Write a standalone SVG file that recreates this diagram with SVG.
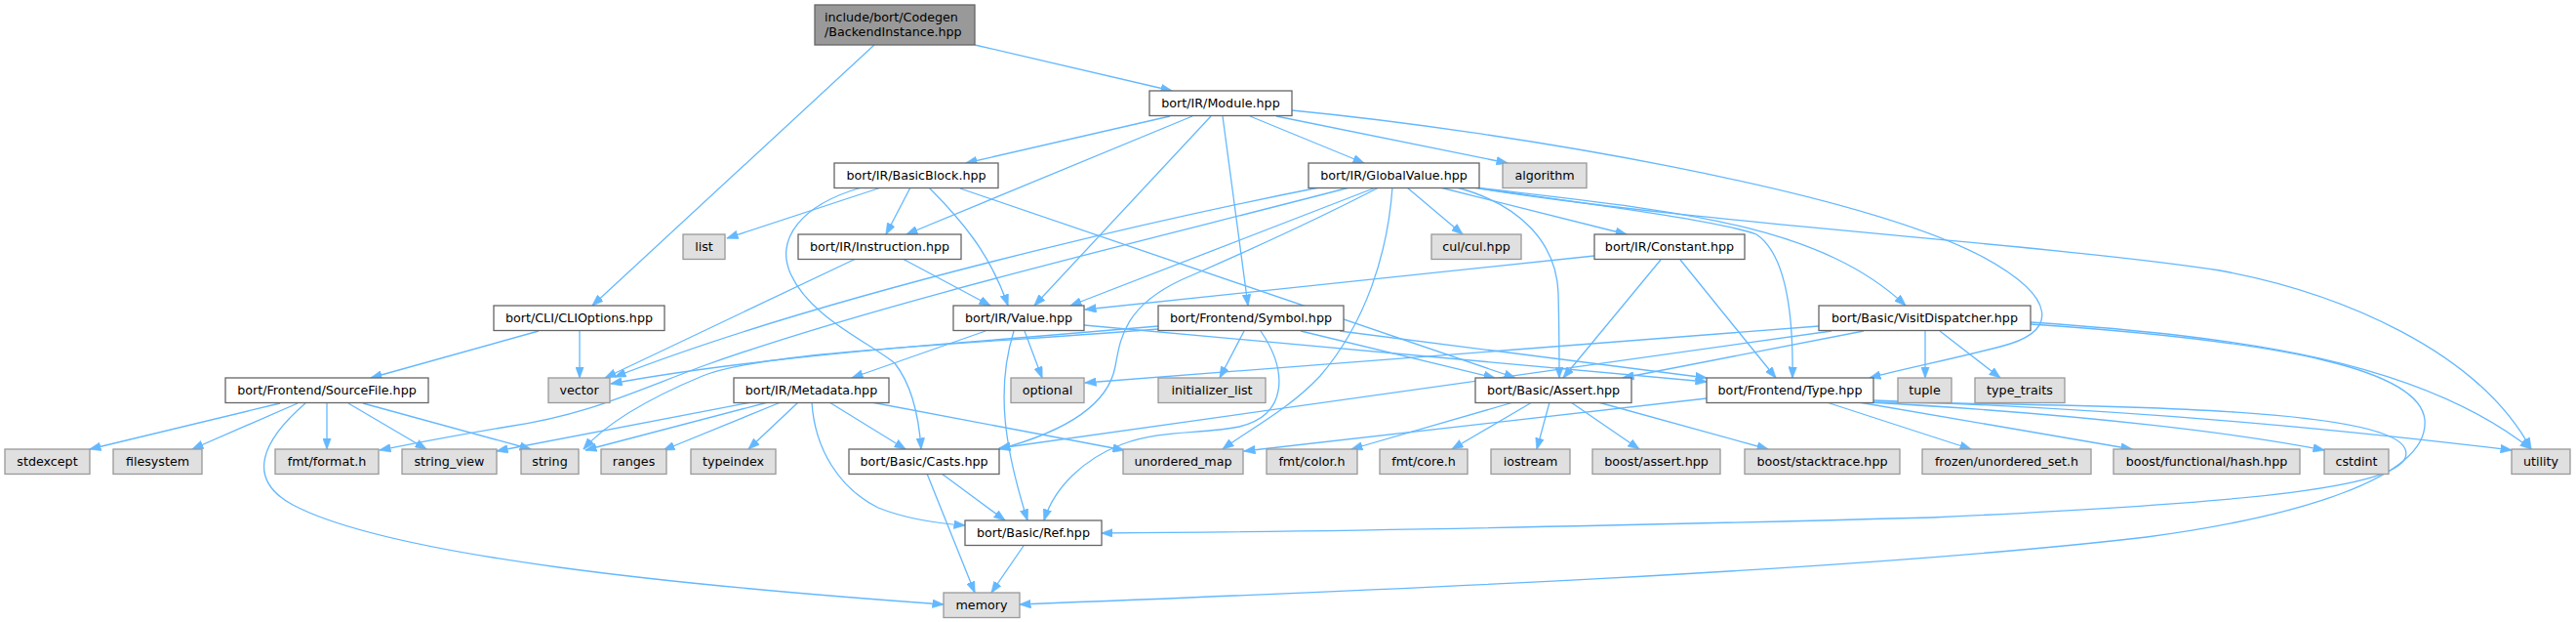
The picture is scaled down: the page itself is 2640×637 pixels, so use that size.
<svg xmlns="http://www.w3.org/2000/svg" width="2640" height="637" viewBox="0 0 2640 637">
<style>
rect{stroke-width:1.3}
.n rect{fill:#ffffff;stroke:#666666}
.x rect{fill:#e0e0e0;stroke:#999999}
.root rect{fill:#999999;stroke:#666666}
text{font-family:"DejaVu Sans","Liberation Sans",sans-serif;font-size:12.7px;fill:#000000;text-anchor:middle}
#edges path{fill:none;stroke:#63b8ff;stroke-width:1.3;marker-end:url(#arr)}
</style>
<defs>
<marker id="arr" markerUnits="userSpaceOnUse" markerWidth="12" markerHeight="9" viewBox="0 0 11 8" refX="10.5" refY="4" orient="auto">
<path d="M0,0 L11,4 L0,8 z" fill="#63b8ff" stroke="#63b8ff" stroke-width="0.5"/>
</marker>
</defs>
<rect x="0" y="0" width="2640" height="637" fill="#ffffff"/>
<g id="edges">
<path d="M999,46 L1201,93"/>
<path d="M896,46 L607,313"/>
<path d="M1199,119 L990,167"/>
<path d="M1222,119 L929,240"/>
<path d="M1241,119 L1060,313"/>
<path d="M1253,119 L1279,313"/>
<path d="M1281,119 L1398,167"/>
<path d="M1308,119 L1545,167"/>
<path d="M1324,113 C1550,135 1900,195 2030,262 C2110,305 2110,340 2050,355 C2000,368 1950,378 1916,387"/>
<path d="M903,192 L745,244"/>
<path d="M933,192 L908,240"/>
<path d="M883,192 C820,210 795,245 810,280 C830,325 890,350 917,372 C935,395 942,430 944,460"/>
<path d="M952,192 C985,225 1015,260 1033,313"/>
<path d="M984,193 L1553,387"/>
<path d="M877,265 L620,387"/>
<path d="M925,265 L1015,313"/>
<path d="M552,339 L380,387"/>
<path d="M594,339 L594,387"/>
<path d="M1442,192 L1499,240"/>
<path d="M1476,192 L1667,240"/>
<path d="M1493,192 C1560,210 1595,250 1597,300 C1598,340 1598,360 1598,387"/>
<path d="M1510,192 C1600,205 1760,225 1800,240 C1830,260 1838,320 1837,387"/>
<path d="M1512,192 C1700,215 1860,225 1953,313"/>
<path d="M1516,193 C1750,230 2100,250 2275,277 C2400,300 2540,360 2594,460"/>
<path d="M1410,192 L1097,313"/>
<path d="M1413,192 C1330,235 1260,265 1210,287 C1150,315 1148,350 1143,375 C1135,420 1080,445 1024,460"/>
<path d="M1427,192 C1422,260 1400,330 1353,385 C1320,420 1280,440 1253,460"/>
<path d="M1352,192 C1200,222 850,300 630,386"/>
<path d="M1383,192 C1200,240 900,310 720,375 C640,405 600,425 520,437 C460,447 420,455 389,461"/>
<path d="M1634,262 L1112,317"/>
<path d="M1702,266 L1602,387"/>
<path d="M1722,266 L1820,387"/>
<path d="M1010,339 L873,387"/>
<path d="M1050,339 L1068,387"/>
<path d="M1039,339 C1020,400 1030,460 1053,533"/>
<path d="M1111,333 L1749,391"/>
<path d="M1187,334 L1020,348 Q760,368 626,393"/>
<path d="M1187,337 C1000,352 780,360 720,385 C660,410 620,435 598,460"/>
<path d="M1275,339 L1250,387"/>
<path d="M1333,339 L1532,387"/>
<path d="M1373,339 L1749,387"/>
<path d="M1292,339 C1320,380 1320,425 1270,437 C1230,445 1190,440 1150,455 C1110,470 1080,500 1070,533"/>
<path d="M1973,339 L1973,387"/>
<path d="M1988,339 L2050,387"/>
<path d="M1910,339 L1663,387"/>
<path d="M1864,334 L1112,392"/>
<path d="M1877,339 L1024,459"/>
<path d="M2081,330 C2300,345 2480,370 2594,460"/>
<path d="M2081,332 C2350,350 2480,380 2485,430 C2490,490 2350,530 2200,550 C1900,585 1400,605 1045,619"/>
<path d="M1920,412 C2200,415 2450,420 2465,460 C2480,500 2300,515 1980,530 C1600,540 1300,545 1129,546"/>
<path d="M1920,410 C2200,420 2400,440 2574,461"/>
<path d="M1915,412 C2150,425 2300,445 2382,461"/>
<path d="M1905,412 L2185,460"/>
<path d="M1872,412 L2020,460"/>
<path d="M1749,408 L1275,462"/>
<path d="M1551,412 L1385,460"/>
<path d="M1570,412 L1488,460"/>
<path d="M1588,412 L1575,460"/>
<path d="M1610,412 L1680,460"/>
<path d="M1638,412 L1812,460"/>
<path d="M770,412 L509,462"/>
<path d="M787,412 L600,461"/>
<path d="M800,412 L680,461"/>
<path d="M818,412 L767,460"/>
<path d="M850,412 L928,460"/>
<path d="M832,412 C835,460 860,500 900,520 C930,532 960,536 989,538"/>
<path d="M893,412 L1152,461"/>
<path d="M287,413 L92,460"/>
<path d="M305,413 L197,460"/>
<path d="M335,413 L335,460"/>
<path d="M357,413 L437,460"/>
<path d="M372,413 L544,460"/>
<path d="M313,413 C270,450 250,490 300,517 C400,570 700,600 967,619"/>
<path d="M965,485 L1030,533"/>
<path d="M950,485 L999,607"/>
<path d="M1049,559 L1016,607"/>
</g>
<g id="node-backend" class="root"><rect x="835" y="5" width="164" height="41"/><text x="845" y="21.5" style="text-anchor:start">include/bort/Codegen</text><text x="845" y="37" style="text-anchor:start">/BackendInstance.hpp</text></g>
<g id="node-module" class="n"><rect x="1178" y="93" width="146" height="25.5"/><text x="1251" y="110.3">bort/IR/Module.hpp</text></g>
<g id="node-basicblock" class="n"><rect x="855" y="167" width="168" height="25.5"/><text x="939" y="184.3">bort/IR/BasicBlock.hpp</text></g>
<g id="node-globalvalue" class="n"><rect x="1341" y="167" width="175" height="25.5"/><text x="1428.5" y="184.3">bort/IR/GlobalValue.hpp</text></g>
<g id="node-algorithm" class="x"><rect x="1540" y="167" width="86" height="25.5"/><text x="1583" y="184.3">algorithm</text></g>
<g id="node-list" class="x"><rect x="700" y="240" width="43" height="25.5"/><text x="721.5" y="257.3">list</text></g>
<g id="node-instruction" class="n"><rect x="818" y="240" width="167" height="25.5"/><text x="901.5" y="257.3">bort/IR/Instruction.hpp</text></g>
<g id="node-cul" class="x"><rect x="1467" y="240" width="92" height="25.5"/><text x="1513" y="257.3">cul/cul.hpp</text></g>
<g id="node-constant" class="n"><rect x="1634" y="240" width="154" height="25.5"/><text x="1711" y="257.3">bort/IR/Constant.hpp</text></g>
<g id="node-clioptions" class="n"><rect x="506" y="313" width="175" height="25.5"/><text x="593.5" y="330.3">bort/CLI/CLIOptions.hpp</text></g>
<g id="node-value" class="n"><rect x="977" y="313" width="134" height="25.5"/><text x="1044" y="330.3">bort/IR/Value.hpp</text></g>
<g id="node-symbol" class="n"><rect x="1187" y="313" width="190" height="25.5"/><text x="1282" y="330.3">bort/Frontend/Symbol.hpp</text></g>
<g id="node-visitdispatcher" class="n"><rect x="1864" y="313" width="217" height="25.5"/><text x="1972.5" y="330.3">bort/Basic/VisitDispatcher.hpp</text></g>
<g id="node-sourcefile" class="n"><rect x="231" y="387" width="208" height="25.5"/><text x="335" y="404.3">bort/Frontend/SourceFile.hpp</text></g>
<g id="node-vector" class="x"><rect x="562" y="387" width="63" height="25.5"/><text x="593.5" y="404.3">vector</text></g>
<g id="node-metadata" class="n"><rect x="752" y="387" width="159" height="25.5"/><text x="831.5" y="404.3">bort/IR/Metadata.hpp</text></g>
<g id="node-optional" class="x"><rect x="1036" y="387" width="75" height="25.5"/><text x="1073.5" y="404.3">optional</text></g>
<g id="node-initializer_list" class="x"><rect x="1187" y="387" width="110" height="25.5"/><text x="1242" y="404.3">initializer_list</text></g>
<g id="node-assert" class="n"><rect x="1512" y="387" width="160" height="25.5"/><text x="1592" y="404.3">bort/Basic/Assert.hpp</text></g>
<g id="node-type" class="n"><rect x="1749" y="387" width="171" height="25.5"/><text x="1834.5" y="404.3">bort/Frontend/Type.hpp</text></g>
<g id="node-tuple" class="x"><rect x="1945" y="387" width="55" height="25.5"/><text x="1972.5" y="404.3">tuple</text></g>
<g id="node-type_traits" class="x"><rect x="2024" y="387" width="92" height="25.5"/><text x="2070" y="404.3">type_traits</text></g>
<g id="node-stdexcept" class="x"><rect x="5" y="460" width="87" height="25.5"/><text x="48.5" y="477.3">stdexcept</text></g>
<g id="node-filesystem" class="x"><rect x="116" y="460" width="91" height="25.5"/><text x="161.5" y="477.3">filesystem</text></g>
<g id="node-fmt_format" class="x"><rect x="282" y="460" width="106" height="25.5"/><text x="335" y="477.3">fmt/format.h</text></g>
<g id="node-string_view" class="x"><rect x="412" y="460" width="97" height="25.5"/><text x="460.5" y="477.3">string_view</text></g>
<g id="node-string" class="x"><rect x="534" y="460" width="59" height="25.5"/><text x="563.5" y="477.3">string</text></g>
<g id="node-ranges" class="x"><rect x="616" y="460" width="67" height="25.5"/><text x="649.5" y="477.3">ranges</text></g>
<g id="node-typeindex" class="x"><rect x="708" y="460" width="87" height="25.5"/><text x="751.5" y="477.3">typeindex</text></g>
<g id="node-casts" class="n"><rect x="870" y="460" width="154" height="25.5"/><text x="947" y="477.3">bort/Basic/Casts.hpp</text></g>
<g id="node-unordered_map" class="x"><rect x="1151" y="460" width="123" height="25.5"/><text x="1212.5" y="477.3">unordered_map</text></g>
<g id="node-fmt_color" class="x"><rect x="1298" y="460" width="93" height="25.5"/><text x="1344.5" y="477.3">fmt/color.h</text></g>
<g id="node-fmt_core" class="x"><rect x="1414" y="460" width="90" height="25.5"/><text x="1459" y="477.3">fmt/core.h</text></g>
<g id="node-iostream" class="x"><rect x="1528" y="460" width="81" height="25.5"/><text x="1568.5" y="477.3">iostream</text></g>
<g id="node-boost_assert" class="x"><rect x="1632" y="460" width="131" height="25.5"/><text x="1697.5" y="477.3">boost/assert.hpp</text></g>
<g id="node-boost_stacktrace" class="x"><rect x="1788" y="460" width="159" height="25.5"/><text x="1867.5" y="477.3">boost/stacktrace.hpp</text></g>
<g id="node-frozen" class="x"><rect x="1970" y="460" width="173" height="25.5"/><text x="2056.5" y="477.3">frozen/unordered_set.h</text></g>
<g id="node-boost_hash" class="x"><rect x="2166" y="460" width="191" height="25.5"/><text x="2261.5" y="477.3">boost/functional/hash.hpp</text></g>
<g id="node-cstdint" class="x"><rect x="2382" y="460" width="66" height="25.5"/><text x="2415" y="477.3">cstdint</text></g>
<g id="node-utility" class="x"><rect x="2574" y="460" width="60" height="25.5"/><text x="2604" y="477.3">utility</text></g>
<g id="node-ref" class="n"><rect x="989" y="533" width="140" height="25.5"/><text x="1059" y="550.3">bort/Basic/Ref.hpp</text></g>
<g id="node-memory" class="x"><rect x="967" y="607" width="78" height="25.5"/><text x="1006" y="624.3">memory</text></g>
</svg>
